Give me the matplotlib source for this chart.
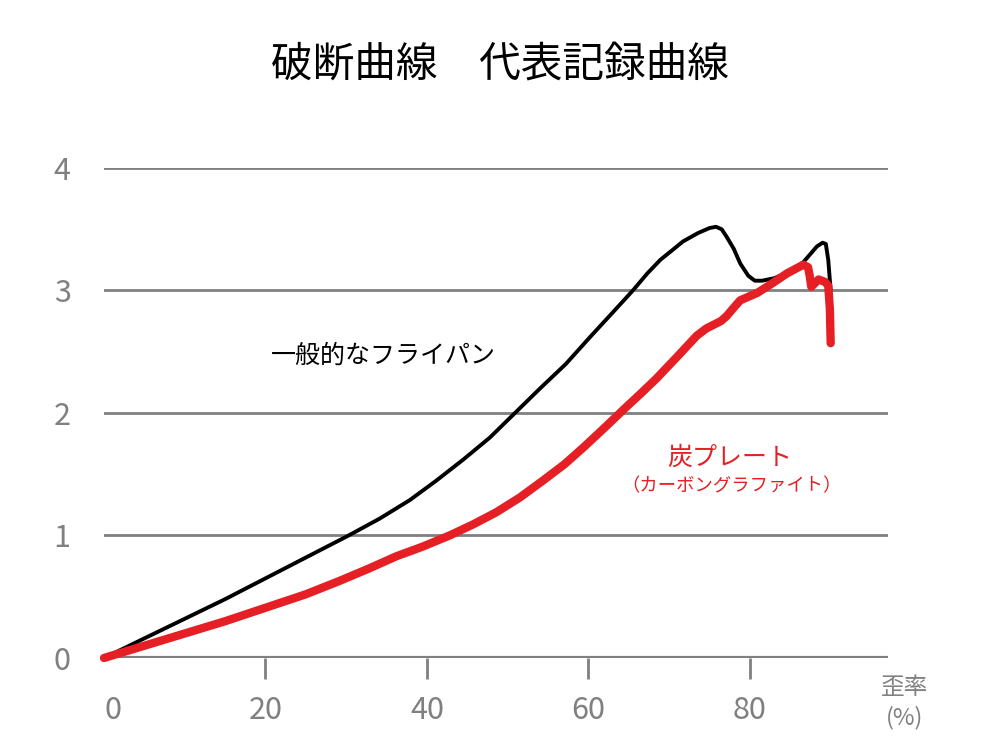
import numpy as np
import matplotlib.pyplot as plt

plt.rcParams['font.family'] = ['Noto Sans CJK JP', 'DejaVu Sans']

# 一般的なフライパン（黒）
pan_x = [0, 5, 10, 15, 20, 25, 30.3, 34.2, 37.9, 41.2, 44.5, 47.8, 50.9, 54.0, 57.2,
         60.2, 63.0, 65.5, 67.3, 68.9, 70.4, 71.7, 73.6, 75.0, 75.8, 76.5, 77.1, 78.0,
         78.8, 79.8, 80.6, 81.5, 83.0, 84.8, 86.6, 88.3, 89.0, 89.4, 89.7, 90.0]
pan_y = [0, 0.16, 0.32, 0.48, 0.65, 0.82, 1.0, 1.14, 1.29, 1.45, 1.62, 1.80, 2.0, 2.20, 2.40,
         2.62, 2.82, 3.0, 3.14, 3.25, 3.33, 3.40, 3.47, 3.51, 3.52, 3.50, 3.44, 3.34,
         3.22, 3.12, 3.08, 3.08, 3.10, 3.15, 3.23, 3.36, 3.39, 3.38, 3.25, 3.0]

# 炭プレート（赤）
carbon_x = [0, 5, 10, 15, 20, 25, 29.2, 32.8, 36.2, 39.5, 42.8, 45.7, 48.6, 51.5, 54.4,
            57.0, 59.4, 62.0, 64.7, 66.5, 68.4, 71.0, 73.4, 74.6, 75.5, 76.4, 77.1, 78.0,
            78.8, 80.9, 82.8, 84.6, 86.6, 87.2, 87.4, 87.6, 88.5, 89.3, 89.7, 89.9, 90.0]
carbon_y = [0, 0.10, 0.20, 0.30, 0.41, 0.52, 0.63, 0.73, 0.83, 0.91, 1.0, 1.09, 1.19, 1.31, 1.45,
            1.58, 1.72, 1.88, 2.05, 2.16, 2.28, 2.46, 2.63, 2.69, 2.72, 2.75, 2.79, 2.86,
            2.92, 2.98, 3.06, 3.14, 3.21, 3.19, 3.12, 3.03, 3.09, 3.07, 3.04, 2.85, 2.57]

xticks = [0, 20, 40, 60, 80]
yticks = [0, 1, 2, 3, 4]

gray = '#808080'
red = '#e51f24'

fig = plt.figure(figsize=(10, 7.5), dpi=100)
ax = fig.add_axes([0.104, 0.1227, 0.784, 0.6533])

for v in yticks[1:]:
    ax.axhline(v, color=gray, lw=2, zorder=1)
ax.axhline(0, color=gray, lw=3, zorder=1)

ax.plot(pan_x, pan_y, color='black', lw=2.8, solid_joinstyle='round',
        solid_capstyle='round', zorder=3, clip_on=False)
ax.plot(carbon_x, carbon_y, color=red, lw=6, solid_joinstyle='round',
        solid_capstyle='round', zorder=4, clip_on=False)

ax.set_xlim(0, 97.1)
ax.set_ylim(0, 4)
for s in ax.spines.values():
    s.set_visible(False)

ax.set_xticks(xticks)
ax.set_xticklabels([str(v) for v in xticks])
ax.set_yticks(yticks)
ax.set_yticklabels([str(v) for v in yticks])
ax.tick_params(axis='x', length=15, width=2, color=gray, pad=12,
               labelsize=22, labelcolor=gray)
ax.tick_params(axis='y', length=0, pad=24, labelsize=22, labelcolor=gray)
ax.xaxis.get_major_ticks()[0].tick1line.set_visible(False)
ax.get_xticklabels()[0].set_horizontalalignment('left')

fig.text(0.383, 1 - 356 / 750, '一般的なフライパン', fontsize=18,
         ha='center', va='center', color='black')
fig.text(0.7295, 1 - 458 / 750, '炭プレート', fontsize=18, ha='center',
         va='center', color=red)
fig.text(0.732, 1 - 486 / 750, '（カーボングラファイト）', fontsize=13.2,
         ha='center', va='center', color=red)

fig.text(0.905, 1 - 688 / 750, '歪率', fontsize=17, ha='center', va='center', color=gray)
fig.text(0.905, 1 - 718 / 750, '(%)', fontsize=17, ha='center', va='center', color=gray)

fig.text(0.5, 1 - 65 / 750, '破断曲線　代表記録曲線', fontsize=30, ha='center',
         va='center', color='black')

fig.savefig('out.png', dpi=100)
